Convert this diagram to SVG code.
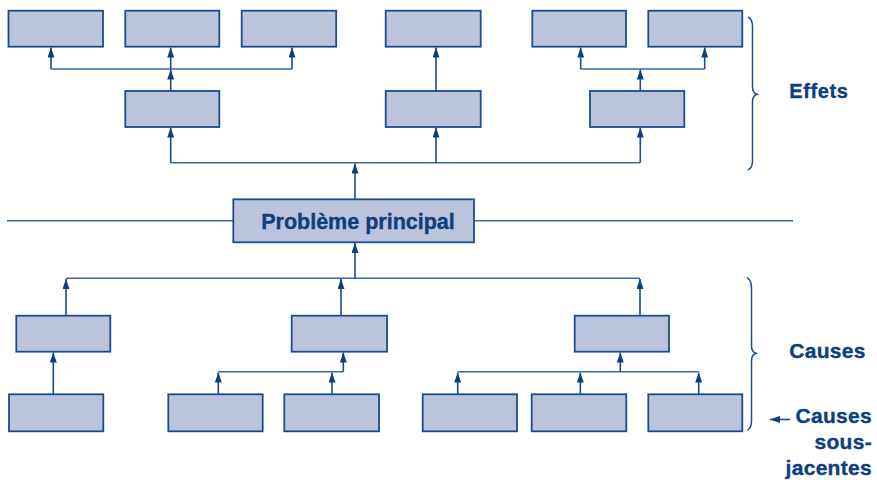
<svg xmlns="http://www.w3.org/2000/svg" width="877" height="480" viewBox="0 0 877 480">
<style>
.box{fill:#bcc3dc;stroke:#1c4c89;stroke-width:1.8}
.c{fill:none;stroke:#3a6aa0;stroke-width:1.6}
.a{fill:none;stroke:#1c4c89;stroke-width:1.6;marker-end:url(#ah)}
.br{fill:none;stroke:#1c4c89;stroke-width:1.5}
.t{font-family:"Liberation Sans",Arial,sans-serif;font-weight:bold;fill:#0d3e7d;stroke:#0d3e7d;stroke-width:0.35}
</style>
<defs>
<marker id="ah" viewBox="0 0 10 7" refX="10" refY="3.5" markerWidth="10" markerHeight="7" markerUnits="userSpaceOnUse" orient="auto">
<path d="M0,0 L10,3.5 L0,7 z" fill="#0d3e7d"/>
</marker>
</defs>
<rect x="0" y="0" width="877" height="480" fill="#ffffff"/>
<g id="separator">
<path class="c" d="M7,220.7 H233.3 M474,220.7 H793"/>
</g>
<g id="connectors">
<path class="c" d="M51,69 H292 M580.7,69 H704.7 M170.7,162.7 H640.3 M66,278.3 H640 M218.3,371.7 H343.3 M457.7,371.7 H698.7"/>
<path class="a" d="M51,69 V47.5"/>
<path class="a" d="M170.7,69 V47.5"/>
<path class="a" d="M292,69 V47.5"/>
<path class="a" d="M170.7,91 V69.5"/>
<path class="a" d="M436,91 V47.5"/>
<path class="a" d="M580.7,69 V47.5"/>
<path class="a" d="M704.7,69 V47.5"/>
<path class="a" d="M640.3,91 V69.5"/>
<path class="a" d="M170.7,162.7 V127.5"/>
<path class="a" d="M436,162.7 V127.5"/>
<path class="a" d="M640.3,162.7 V127.5"/>
<path class="a" d="M355,199.3 V163.5"/>
<path class="a" d="M355,278.3 V243"/>
<path class="a" d="M66,315.7 V279"/>
<path class="a" d="M341,315.7 V279"/>
<path class="a" d="M640,315.7 V279"/>
<path class="a" d="M53.3,394.3 V352.5"/>
<path class="a" d="M218.3,394.3 V372.5"/>
<path class="a" d="M332,394.3 V372.5"/>
<path class="a" d="M343.3,371.7 V352.5"/>
<path class="a" d="M457.7,394.3 V372.5"/>
<path class="a" d="M580.3,394.3 V372.5"/>
<path class="a" d="M698.7,394.3 V372.5"/>
<path class="a" d="M620.3,371.7 V352.5"/>
<path class="a" d="M790,419.5 H770"/>
</g>
<g id="effect1"><rect class="box" x="8.5" y="10.7" width="94.5" height="36"/></g>
<g id="effect2"><rect class="box" x="125.3" y="10.7" width="94" height="36"/></g>
<g id="effect3"><rect class="box" x="241.7" y="10.7" width="94.5" height="36"/></g>
<g id="effect4"><rect class="box" x="385.7" y="10.7" width="95" height="36"/></g>
<g id="effect5"><rect class="box" x="532.3" y="10.7" width="93.7" height="36"/></g>
<g id="effect6"><rect class="box" x="648.3" y="10.7" width="94" height="36"/></g>
<g id="effectA"><rect class="box" x="125.3" y="91" width="94" height="36"/></g>
<g id="effectB"><rect class="box" x="385.7" y="91" width="95" height="36"/></g>
<g id="effectC"><rect class="box" x="590" y="91" width="94.3" height="36"/></g>
<g id="main">
<rect class="box" x="233.3" y="199.3" width="240.7" height="43"/>
<text class="t" x="358" y="228.5" font-size="21.5" text-anchor="middle">Problème principal</text>
</g>
<g id="cause1"><rect class="box" x="16.3" y="315.7" width="94" height="36"/></g>
<g id="cause2"><rect class="box" x="291.7" y="315.7" width="95.3" height="36"/></g>
<g id="cause3"><rect class="box" x="574.7" y="315.7" width="94.3" height="36"/></g>
<g id="under1"><rect class="box" x="9" y="394.3" width="94.3" height="37"/></g>
<g id="under2"><rect class="box" x="168.3" y="394.3" width="94.4" height="37"/></g>
<g id="under3"><rect class="box" x="284.3" y="394.3" width="94.7" height="37"/></g>
<g id="under4"><rect class="box" x="422.7" y="394.3" width="94.3" height="37"/></g>
<g id="under5"><rect class="box" x="531.7" y="394.3" width="94.6" height="37"/></g>
<g id="under6"><rect class="box" x="648.3" y="394.3" width="94" height="37"/></g>
<g id="braces">
<path class="br" d="M748,17 Q752.5,19 752.5,27 V87 Q752.5,93 757,94.3 Q752.5,96 752.5,102 V161 Q752.5,168 748,170"/>
<path class="br" d="M747,277.7 Q751.5,280 751.5,288 V346 Q751.5,352 756,353.3 Q751.5,355 751.5,361 V421 Q751.5,428 747.5,430"/>
</g>
<g id="labels">
<text class="t" x="789.3" y="97.5" font-size="20" letter-spacing="0.6">Effets</text>
<text class="t" x="789.3" y="358.3" font-size="21" letter-spacing="0.3">Causes</text>
<text class="t" x="872" y="422.5" font-size="21" letter-spacing="0.3" text-anchor="end">Causes</text>
<text class="t" x="872" y="448.5" font-size="21" letter-spacing="0.3" text-anchor="end">sous-</text>
<text class="t" x="872" y="475" font-size="21" letter-spacing="0.3" text-anchor="end">jacentes</text>
</g>
</svg>
